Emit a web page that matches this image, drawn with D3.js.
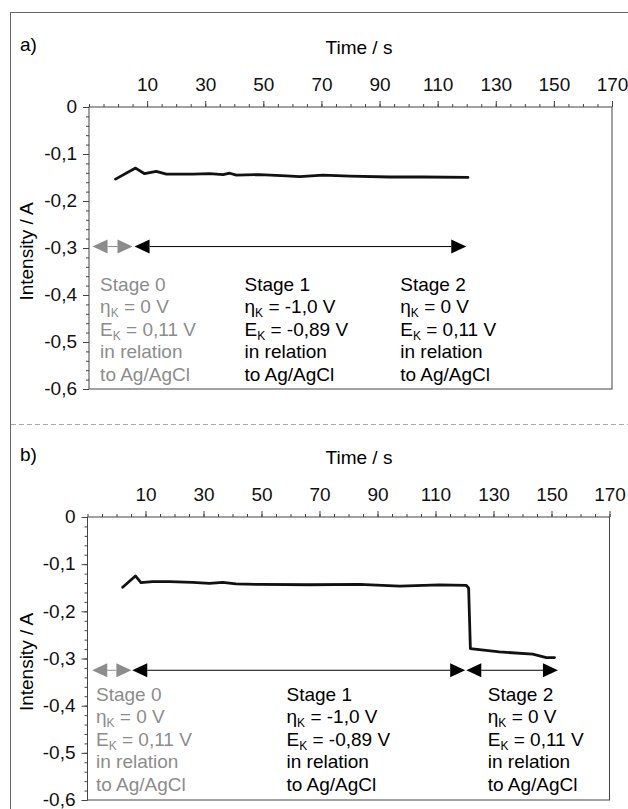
<!DOCTYPE html>
<html>
<head>
<meta charset="utf-8">
<script src="https://cdn.jsdelivr.net/npm/d3@7"></script>
<style>
  body { margin: 0; background: #fff; }
  svg { display: block; font-family: "Liberation Sans", Arial, sans-serif; }
</style>
</head>
<body>
<svg id="chart"></svg>
<script>
// data
const timeA = [-0.7, 6.2, 9.3, 13.3, 16.8, 26, 31.7, 36.3, 38.6, 40.9, 48.9, 58.1, 62.7, 70.7, 80, 93.7, 105, 120.6];
const currentA = [-0.1545, -0.131, -0.143, -0.138, -0.144, -0.144, -0.143, -0.145, -0.142, -0.146, -0.145, -0.1475, -0.149, -0.146, -0.148, -0.150, -0.150, -0.151];

const timeB = [2.3, 6.7, 8.6, 12.6, 18.4, 26.4, 32.2, 36.8, 41.4, 49.5, 66.7, 84, 97.8, 111.6, 120.8, 121.6, 122.2, 132.2, 143.7, 148.4, 151.2];
const currentB = [-0.150, -0.126, -0.140, -0.138, -0.138, -0.1396, -0.1418, -0.1396, -0.143, -0.144, -0.1447, -0.144, -0.1475, -0.145, -0.146, -0.152, -0.280, -0.287, -0.292, -0.299, -0.299];

const xTickLabels = [10, 30, 50, 70, 90, 110, 130, 150, 170];
const yTickLabels = [0, -0.1, -0.2, -0.3, -0.4, -0.5, -0.6];

// stage arrows: [start, end] in seconds, and the level they sit on
const stagesA = [[-8.6, 5.15], [5.85, 120.0]];
const stagesB = [[-8.2, 5.3], [5.6, 120.4], [120.8, 152.4]];
const arrowLevelA = -0.298;
const arrowLevelB = -0.326;

// stage label start times
const stageLabelTimesA = [-6.0, 43.7, 97.3];
const stageLabelTimesB = [-6.9, 58.8, 128.2];

const stageNames = ["Stage 0", "Stage 1", "Stage 2"];
const etaValues = ["0 V", "-1,0 V", "0 V"];
const eValues = ["0,11 V", "-0,89 V", "0,11 V"];

const W = 628, H = 809;
const grey = "#8c8c8c";
const axisCol = "#444";
const fs = 19;

const svg = d3.select("#chart").attr("width", W).attr("height", H);

// outer frame (cut off on the right/bottom)
svg.append("rect")
  .attr("x", 10.5).attr("y", 12.5)
  .attr("width", 640).attr("height", 840)
  .attr("fill", "none").attr("stroke", "#666").attr("stroke-width", 1);

// separator
svg.append("line")
  .attr("x1", 11).attr("x2", W).attr("y1", 424.5).attr("y2", 424.5)
  .attr("stroke", "#aaa").attr("stroke-dasharray", "5,3");

const fmt = v => v === 0 ? "0" : d3.format(".1f")(v).replace(".", ",").replace("−", "-");

function drawPanel(cfg) {
  const g = svg.append("g");
  const x = d3.scaleLinear().domain([-10, 170]).range([cfg.left, cfg.right]);
  const y = d3.scaleLinear().domain([0, -0.6]).range([cfg.top, cfg.bottom]);

  // panel letter
  g.append("text").attr("x", 20).attr("y", cfg.top - 56)
    .attr("font-size", fs).text(cfg.letter);

  // plot box
  g.append("rect")
    .attr("x", cfg.left + 0.5).attr("y", cfg.top + 0.5)
    .attr("width", cfg.right - cfg.left).attr("height", cfg.bottom - cfg.top)
    .attr("fill", "none").attr("stroke", axisCol).attr("stroke-width", 1);

  // x axis on top: minor ticks every 5 s, labelled ones every 20 s
  const xMinor = d3.range(-10, 171, 5);
  const xAxisMinor = d3.axisTop(x).tickValues(xMinor).tickSize(3).tickFormat("");
  const xAxisMajor = d3.axisTop(x).tickValues(xTickLabels).tickSize(6).tickPadding(10).tickFormat(d3.format("d"));
  [xAxisMinor, xAxisMajor].forEach(ax => {
    const a = g.append("g").attr("transform", `translate(0.5,${cfg.top + 0.5})`).call(ax);
    a.select(".domain").remove();
    a.selectAll("line").attr("stroke", axisCol);
    a.selectAll("text").attr("font-size", fs).attr("fill", "#111")
      .attr("font-family", "Liberation Sans, Arial, sans-serif");
  });

  // y axis on the left: minor every 0.02, labelled every 0.1
  const yMinor = d3.range(0, 31).map(i => -i * 0.02);
  const yAxisMinor = d3.axisLeft(y).tickValues(yMinor).tickSize(3).tickFormat("");
  const yAxisMajor = d3.axisLeft(y).tickValues(yTickLabels).tickSize(6).tickPadding(6).tickFormat(fmt);
  [yAxisMinor, yAxisMajor].forEach(ax => {
    const a = g.append("g").attr("transform", `translate(${cfg.left + 0.5},0.5)`).call(ax);
    a.select(".domain").remove();
    a.selectAll("line").attr("stroke", axisCol);
    a.selectAll("text").attr("font-size", fs).attr("fill", "#111")
      .attr("font-family", "Liberation Sans, Arial, sans-serif")
      .attr("dy", "0.3em");
  });

  // axis titles
  g.append("text")
    .attr("x", 359).attr("y", cfg.top - 53)
    .attr("text-anchor", "middle").attr("font-size", fs).text("Time / s");
  g.append("text")
    .attr("transform", `translate(33,${(cfg.top + cfg.bottom) / 2 + 4}) rotate(-90)`)
    .attr("text-anchor", "middle").attr("font-size", fs).text("Intensity / A");

  // current trace
  const line = d3.line().x(d => x(d[0])).y(d => y(d[1]));
  g.append("path")
    .datum(d3.zip(cfg.time, cfg.current))
    .attr("d", line)
    .attr("fill", "none").attr("stroke", "#111").attr("stroke-width", 2.8)
    .attr("stroke-linejoin", "round").attr("stroke-linecap", "round");

  // stage arrows
  const ay = y(cfg.arrowLevel);
  const hl = 15, hh = 7;
  cfg.stages.forEach((s, i) => {
    const col = i === 0 ? grey : "#000";
    const x0 = x(s[0]), x1 = x(s[1]);
    g.append("line").attr("x1", x0 + hl).attr("x2", x1 - hl)
      .attr("y1", ay).attr("y2", ay).attr("stroke", col).attr("stroke-width", 1);
    g.append("path")
      .attr("d", `M${x0},${ay}L${x0 + hl},${ay - hh}L${x0 + hl},${ay + hh}Z`)
      .attr("fill", col);
    g.append("path")
      .attr("d", `M${x1},${ay}L${x1 - hl},${ay - hh}L${x1 - hl},${ay + hh}Z`)
      .attr("fill", col);
  });

  // stage descriptions
  const lh = 22.6;
  cfg.labelTimes.forEach((t, i) => {
    const col = i === 0 ? grey : "#000";
    const tx = x(t);
    const y0 = cfg.top + 184;
    g.append("text").attr("font-size", fs).attr("fill", col)
      .attr("x", tx).attr("y", y0).text(stageNames[i]);
    const l2 = g.append("text").attr("font-size", fs).attr("fill", col).attr("x", tx).attr("y", y0 + lh);
    l2.append("tspan").text("\u03B7");
    l2.append("tspan").attr("font-size", 12).attr("dy", 4).text("K");
    l2.append("tspan").attr("dy", -4).text(" = " + etaValues[i]);
    const l3 = g.append("text").attr("font-size", fs).attr("fill", col).attr("x", tx).attr("y", y0 + 2 * lh);
    l3.append("tspan").text("E");
    l3.append("tspan").attr("font-size", 12).attr("dy", 4).text("K");
    l3.append("tspan").attr("dy", -4).text(" = " + eValues[i]);
    g.append("text").attr("font-size", fs).attr("fill", col)
      .attr("x", tx).attr("y", y0 + 3 * lh).text("in relation");
    g.append("text").attr("font-size", fs).attr("fill", col)
      .attr("x", tx).attr("y", y0 + 4 * lh).text("to Ag/AgCl");
  });
}

drawPanel({
  letter: "a)", top: 106.5, bottom: 388.5, left: 88.5, right: 611.5,
  time: timeA, current: currentA,
  stages: stagesA, arrowLevel: arrowLevelA, labelTimes: stageLabelTimesA
});

drawPanel({
  letter: "b)", top: 516.5, bottom: 799.5, left: 87, right: 609,
  time: timeB, current: currentB,
  stages: stagesB, arrowLevel: arrowLevelB, labelTimes: stageLabelTimesB
});
</script>
</body>
</html>
